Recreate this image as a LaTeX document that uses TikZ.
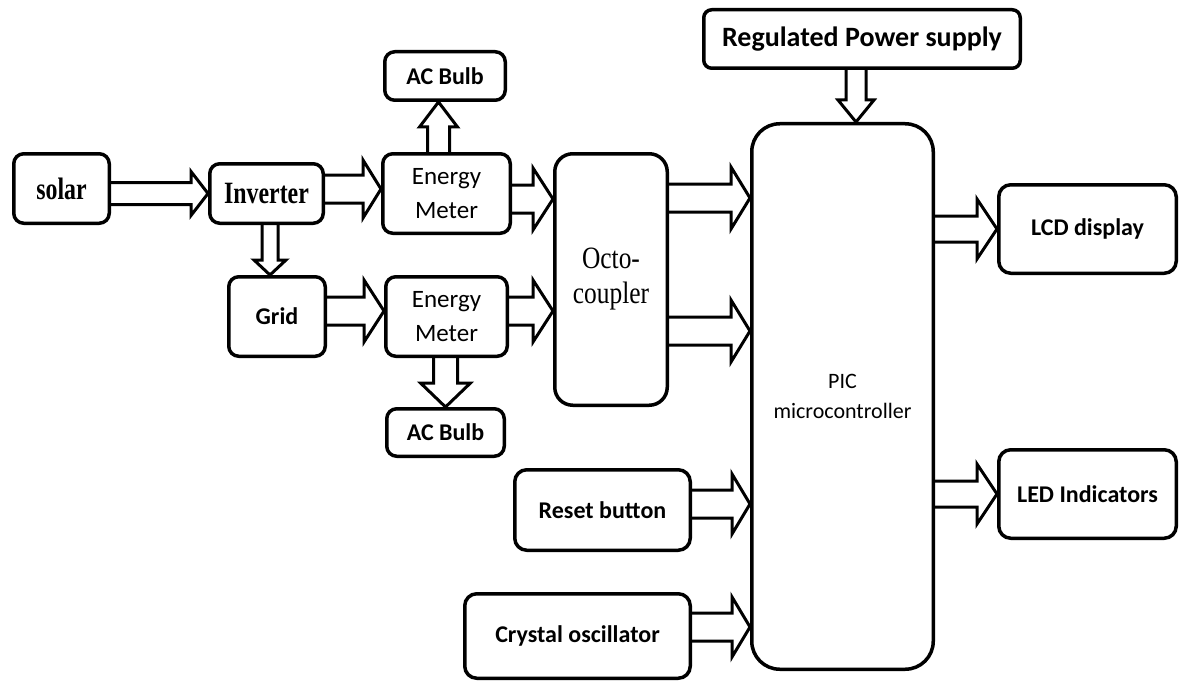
\documentclass[tikz,border=0pt]{standalone}
\usepackage{fontspec}
\setmainfont{Carlito}
\newfontfamily\serifnarrow[FakeStretch=0.77]{Liberation Serif}
\newfontfamily\serifplain[FakeStretch=0.82]{Liberation Serif}
\usetikzlibrary{calc}

\begin{document}
\begin{tikzpicture}[x=1pt, y=-1pt,
    box/.style={draw, line width=3.5pt, rounded corners=10pt, align=center, inner sep=0pt,
        font=\fontsize{24}{30}\selectfont\bfseries},
    serifbox/.style={box, font=\serifnarrow\fontsize{31}{35}\selectfont\bfseries},
    meterbox/.style={box, font=\fontsize{25}{34}\selectfont},
    shaftw/.store in=\arrS, headw/.store in=\arrH, headl/.store in=\arrL,
    shaftw=14, headw=31, headl=20,
    fat/.style={draw, line width=3pt, line join=miter,
        to path={let \p1=(\tikztostart), \p2=(\tikztotarget),
            \n1={veclen(\x2-\x1,\y2-\y1)},
            \n2={(\x2-\x1)/\n1}, \n3={(\y2-\y1)/\n1} in
            ({\x1-\n3*\arrS},{\y1+\n2*\arrS})
            -- ({\x1+\n2*(\n1-\arrL)-\n3*\arrS},{\y1+\n3*(\n1-\arrL)+\n2*\arrS})
            -- ({\x1+\n2*(\n1-\arrL)-\n3*\arrH},{\y1+\n3*(\n1-\arrL)+\n2*\arrH})
            -- (\p2)
            -- ({\x1+\n2*(\n1-\arrL)+\n3*\arrH},{\y1+\n3*(\n1-\arrL)-\n2*\arrH})
            -- ({\x1+\n2*(\n1-\arrL)+\n3*\arrS},{\y1+\n3*(\n1-\arrL)-\n2*\arrS})
            -- ({\x1+\n3*\arrS},{\y1-\n2*\arrS})}}]

\useasboundingbox (0,0) rectangle (1180,682);

\node[serifbox, minimum width=95.5pt, minimum height=69.5pt] at (61.5,188.5) (solar) {solar};

\node[serifbox, minimum width=113.5pt, minimum height=59.5pt] at (266.5,193.5) (inv) {Inverter};

\node[meterbox, minimum width=127.5pt, minimum height=79.5pt] at (446.5,193.5) (em1) {Energy\\Meter};

\node[box, minimum width=120.5pt, minimum height=48.5pt] at (445,76) (bulb1) {AC Bulb};

\node[box, minimum width=96.5pt, minimum height=79.5pt] at (277,316.5) (grid) {Grid};

\node[meterbox, minimum width=121.5pt, minimum height=79.5pt] at (446.5,316.5) (em2) {Energy\\Meter};

\node[box, minimum width=117.5pt, minimum height=47.5pt] at (445.5,432.5) (bulb2) {AC Bulb};

\node[box, rounded corners=18pt, font=\serifplain\fontsize{31}{35}\selectfont,
    minimum width=112.5pt, minimum height=251.5pt] at (611,279.5) (octo) {Octo-\\coupler};

\node[box, rounded corners=8pt, font=\fontsize{28}{34}\selectfont\bfseries,
    minimum width=316.5pt, minimum height=58.5pt] at (862,39) (rps) {Regulated Power supply};

\node[box, rounded corners=28pt, font=\fontsize{22}{30}\selectfont,
    minimum width=181.5pt, minimum height=545.5pt] at (842.5,396.5) (pic) {PIC\\microcontroller};

\node[box, rounded corners=12pt,
    minimum width=177.5pt, minimum height=88.5pt] at (1087.5,229) (lcd) {LCD display};

\node[box, rounded corners=12pt,
    minimum width=177.5pt, minimum height=88.5pt] at (1087.5,494) (led) {LED Indicators};

\node[box, rounded corners=12pt,
    minimum width=175.5pt, minimum height=80.5pt] at (602.5,510) (reset) {Reset button};

\node[box, rounded corners=12pt,
    minimum width=225.5pt, minimum height=84.5pt] at (577.5,636) (xtal) {Crystal oscillator};

\draw[fat, shaftw=11, headw=22, headl=17] (solar.east |- inv.west) to (inv.west);
\draw[fat, headw=29, headl=18] ([yshift=4.5pt]inv.east) to ([yshift=4.5pt]em1.west);
\draw[fat] ([yshift=-5.5pt]em1.east) to ([yshift=-5.5pt]em1.east -| octo.west);
\draw[fat] ([yshift=5.5pt]grid.east) to ([yshift=5.5pt]em2.west);
\draw[fat] ([yshift=5.5pt]em2.east) to ([yshift=5.5pt]em2.east -| octo.west);
\draw[fat, headl=19] ([yshift=81.5pt]octo.east) to ([yshift=81.5pt]octo.east -| pic.west);
\draw[fat, headl=19] ([yshift=-51.5pt]octo.east) to ([yshift=-51.5pt]octo.east -| pic.west);
\draw[fat, headw=30, headl=18] ([yshift=6pt]reset.east) to ([yshift=6pt]reset.east -| pic.west);
\draw[fat, headw=30, headl=18] ([yshift=9pt]xtal.east) to ([yshift=9pt]xtal.east -| pic.west);
\draw[fat, shaftw=13, headw=30] (pic.east |- lcd.west) to (lcd.west);
\draw[fat, shaftw=13, headw=30] (pic.east |- led.west) to (led.west);

\draw[fat, shaftw=11, headw=19, headl=25] ([xshift=-8pt]em1.north) to ([xshift=-8pt]em1.north |- bulb1.south);
\draw[fat, shaftw=12, headw=25, headl=24] (bulb2.north |- em2.south) to (bulb2.north);
\draw[fat, shaftw=8, headw=16, headl=15] ([xshift=3.5pt]inv.south) to ([xshift=3.5pt]inv.south |- grid.north);
\draw[fat, shaftw=10, headw=18, headl=22] ([xshift=-6pt]rps.south) to ([xshift=-6pt]rps.south |- pic.north);

\end{tikzpicture}
\end{document}
